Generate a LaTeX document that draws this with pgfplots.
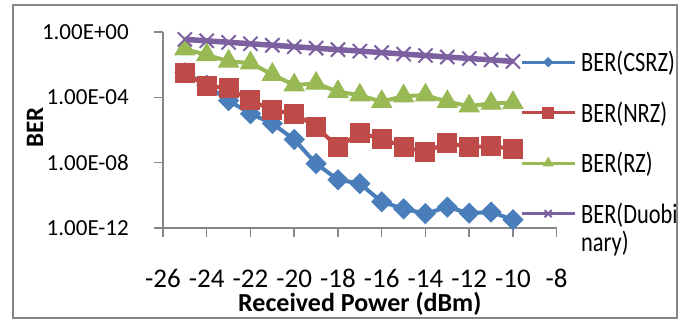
\documentclass[border=0pt]{standalone}
\usepackage{fontspec}
\setmainfont{Carlito}
\newfontfamily\legfont{Carlito}[FakeStretch=0.8]
\usepackage{pgfplots}
\pgfplotsset{compat=1.18}
\definecolor{cblue}{HTML}{4A7EBB}
\definecolor{cred}{HTML}{BE4B48}
\definecolor{cgreen}{HTML}{98B954}
\definecolor{cpurple}{HTML}{7D60A0}
\definecolor{axgray}{HTML}{868686}
\begin{document}
\begin{tikzpicture}[x=1pt,y=1pt]
\useasboundingbox (0,0) rectangle (685,322);
\draw[line width=2pt, color=axgray] (13,4) rectangle (677,317);
\begin{axis}[
  at={(163pt,94pt)}, anchor=south west,
  scale only axis, width=393.7pt, height=196pt,
  ymode=log, xmin=-26, xmax=-8, ymin=1e-12, ymax=1,
  clip=false,
  axis lines=left,
  axis line style={draw=axgray, line width=1.5pt, -},
  tick align=outside, major tick length=9pt,
  tick style={draw=axgray, line width=1.5pt},
  xminorticks=false, yminorticks=false,
  xtick={-26,-24,-22,-20,-18,-16,-14,-12,-10,-8},
  xticklabels={-26,-24,-22,-20,-18,-16,-14,-12,-10,-8},
  ytick={1e-12,1e-8,1e-4,1},
  yticklabels={1.00E-12,1.00E-08,1.00E-04,1.00E+00},
  xticklabel style={font=\fontsize{27}{29}\selectfont, anchor=base, inner sep=0pt, yshift=-50pt},
  yticklabel style={font=\fontsize{23}{25}\selectfont, anchor=east, inner sep=0pt, xshift=-25pt},
  xlabel={\textbf{Received Power (dBm)}},
  xlabel style={font=\fontsize{26}{28}\selectfont, at={(axis description cs:0.5,0)}, anchor=base, inner sep=0pt, yshift=-83pt},
  ylabel={\textbf{BER}},
  ylabel style={font=\fontsize{25}{27}\selectfont, at={(axis description cs:-0.325,0.513)}, anchor=center, inner sep=0pt},
  legend style={at={(axis description cs:0.9068,0.903)}, anchor=north west, draw=none, fill=none,
    font=\legfont\fontsize{28}{25}\selectfont, row sep=28.5pt, column sep=5pt, inner sep=0pt,
    nodes={inner sep=0pt}},
  legend cell align=left,
  legend image code/.code={\draw[mark repeat=2,mark phase=2] plot coordinates {(0pt,0pt) (26.5pt,0pt) (53pt,0pt)};},
]
\addplot[color=cblue, line width=4pt, mark=square*, mark size=7pt, mark options={rotate=45, solid, line width=1pt},
  legend image post style={line width=3pt, mark size=3.2pt}] table {
x y
-25 3.2e-3
-24 5.6e-4
-23 6.3e-5
-22 1.0e-5
-21 2.5e-6
-20 2.6e-7
-19 8.7e-9
-18 9.1e-10
-17 5.2e-10
-16 4.0e-11
-15 1.5e-11
-14 7.6e-12
-13 1.9e-11
-12 8.1e-12
-11 9.5e-12
-10 3.2e-12
};
\addlegendentry{BER(CSRZ)}
\addplot[color=cred, line width=4pt, mark=square*, mark size=9.5pt, mark options={solid, line width=1pt},
  legend image post style={line width=3pt, mark size=5.5pt}] table {
x y
-25 2.9e-3
-24 5.1e-4
-23 3.5e-4
-22 6.8e-5
-21 1.6e-5
-20 1.0e-5
-19 1.55e-6
-18 9.1e-8
-17 6.3e-7
-16 3.0e-7
-15 9.1e-8
-14 4.6e-8
-13 1.6e-7
-12 9.1e-8
-11 1.0e-7
-10 7.2e-8
};
\addlegendentry{BER(NRZ)}
\addplot[color=cgreen, line width=4pt, mark=triangle*, mark size=11.5pt, mark options={solid, line width=1pt},
  legend image post style={line width=3pt, mark size=5.5pt}] table {
x y
-25 8.9e-2
-24 4.0e-2
-23 1.6e-2
-22 1.26e-2
-21 2.5e-3
-20 5.6e-4
-19 7.1e-4
-18 2.2e-4
-17 1.35e-4
-16 5.4e-5
-15 1.2e-4
-14 1.35e-4
-13 5.4e-5
-12 2.9e-5
-11 4.2e-5
-10 4.7e-5
};
\addlegendentry{BER(RZ)}
\addplot[color=cpurple, line width=5.5pt, mark=x, mark size=10pt, mark options={solid, line width=2pt},
  legend image post style={line width=3pt, mark size=5pt}] table {
x y
-25 0.355
-24 0.288
-23 0.234
-22 0.191
-21 0.155
-20 0.126
-19 0.102
-18 0.0832
-17 0.0676
-16 0.0550
-15 0.0447
-14 0.0363
-13 0.0295
-12 0.0240
-11 0.0195
-10 0.0158
};
\addlegendentry{\begin{tabular}[t]{@{}l@{}}BER(Duobi\\nary)\end{tabular}}
\end{axis}
\end{tikzpicture}
\end{document}
